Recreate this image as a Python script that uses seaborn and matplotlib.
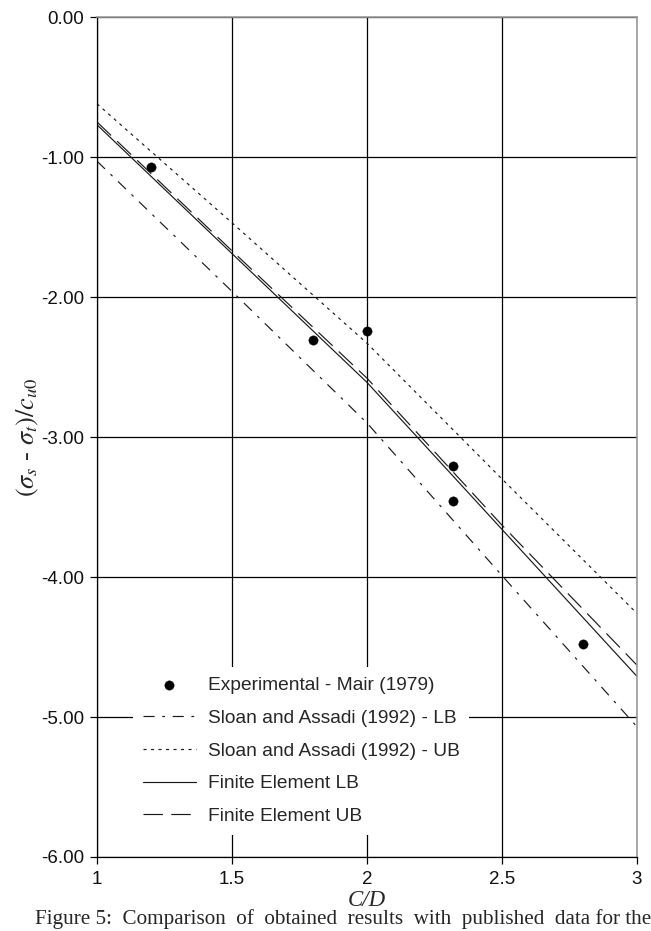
import numpy as np
import pandas as pd
import matplotlib
matplotlib.use("Agg")
import matplotlib.pyplot as plt
import seaborn as sns
from matplotlib.ticker import FormatStrFormatter

# ---- data ----
cd_exp = [1.2, 1.8, 2.0, 2.32, 2.32, 2.8]
stress_exp = [-1.07, -2.31, -2.24, -3.21, -3.46, -4.48]

cd_curve = [1.0, 1.5, 2.0, 2.5, 3.0]
sloan_lb = [-1.03, -1.96, -2.90, -3.99, -5.07]
sloan_ub = [-0.62, -1.47, -2.33, -3.30, -4.26]
fe_lb = [-0.77, -1.69, -2.61, -3.66, -4.71]
fe_ub = [-0.75, -1.67, -2.58, -3.63, -4.63]

x_ticks = [1, 1.5, 2, 2.5, 3]
x_tick_labels = ["1", "1.5", "2", "2.5", "3"]
y_ticks = [0, -1, -2, -3, -4, -5, -6]

labels = ["Experimental - Mair (1979)",
          "Sloan and Assadi (1992) - LB",
          "Sloan and Assadi (1992) - UB",
          "Finite Element LB",
          "Finite Element UB"]

sns.set_style("ticks")
plt.rcParams["font.family"] = ["Liberation Sans", "DejaVu Sans"]
plt.rcParams["axes.unicode_minus"] = False
plt.rcParams["lines.scale_dashes"] = False
plt.rcParams["mathtext.fontset"] = "stix"

W, H = 651, 931
fig = plt.figure(figsize=(W / 100, H / 100), dpi=100)
L, R, T, B = 97, 637, 17, 857
ax = fig.add_axes([L / W, 1 - B / H, (R - L) / W, (B - T) / H])

df_exp = pd.DataFrame({"cd": cd_exp, "s": stress_exp})
sns.scatterplot(data=df_exp, x="cd", y="s", ax=ax, color="black", s=45,
                edgecolor="black", linewidth=0.3, zorder=5, label=labels[0])

lc = "#1a1a1a"
lw = 0.85
sns.lineplot(x=cd_curve, y=sloan_lb, ax=ax, color=lc, lw=lw,
             linestyle=(0, (8, 5.5, 2, 5.5)), label=labels[1])
sns.lineplot(x=cd_curve, y=sloan_ub, ax=ax, color=lc, lw=lw,
             linestyle=(0, (2.2, 3.2)), label=labels[2])
sns.lineplot(x=cd_curve, y=fe_lb, ax=ax, color=lc, lw=lw,
             linestyle="-", label=labels[3])
sns.lineplot(x=cd_curve, y=fe_ub, ax=ax, color=lc, lw=lw,
             linestyle=(0, (14, 6)), label=labels[4])

ax.set_xlim(1, 3)
ax.set_ylim(-6, 0)
ax.set_xticks(x_ticks)
ax.set_xticklabels(x_tick_labels)
ax.set_yticks(y_ticks)
ax.yaxis.set_major_formatter(FormatStrFormatter("%.2f"))
ax.set_axisbelow(True)
ax.grid(True, color="black", lw=0.9)
ax.tick_params(axis="both", direction="out", length=5, width=0.9,
               color="black", labelsize=13.5, labelcolor="#111111")
ax.tick_params(axis="x", pad=5)
ax.tick_params(axis="y", pad=4)
for side in ["left", "bottom"]:
    ax.spines[side].set_color("black")
    ax.spines[side].set_linewidth(0.9)
for side in ["top", "right"]:
    ax.spines[side].set_visible(True)
    ax.spines[side].set_color("#9a9a9a")
    ax.spines[side].set_linewidth(1.2)

ax.set_xlabel("")
ax.set_ylabel("")
fig.text(28 / W, 1 - 437 / H, r"$(\sigma_s$ - $\sigma_t)/c_{u0}$",
         rotation=90, ha="center", va="center", fontsize=19,
         family="Liberation Serif", style="italic")
fig.text(367 / W, 1 - 900 / H, "C/D", ha="center", va="center",
         fontsize=16.5, family="Liberation Serif", style="italic")

caption = ("Figure 5:  Comparison  of  obtained  results  with  "
           "published  data for the")
fig.text(35 / W, 1 - 909 / H, caption, ha="left", va="top",
         fontsize=15.2, family="Liberation Serif")

leg = ax.legend(loc="upper left", bbox_to_anchor=((133 - L) / (R - L), (B - 667) / (B - T)),
                fontsize=13.8, frameon=True, fancybox=False, framealpha=1,
                facecolor="white", edgecolor="none", handlelength=2.8,
                handletextpad=0.6, labelspacing=0.8, borderpad=0.5,
                borderaxespad=0, markerscale=1.0, scatterpoints=1)
leg.set_zorder(10)

fig.savefig("out.png", dpi=100, facecolor="white")
